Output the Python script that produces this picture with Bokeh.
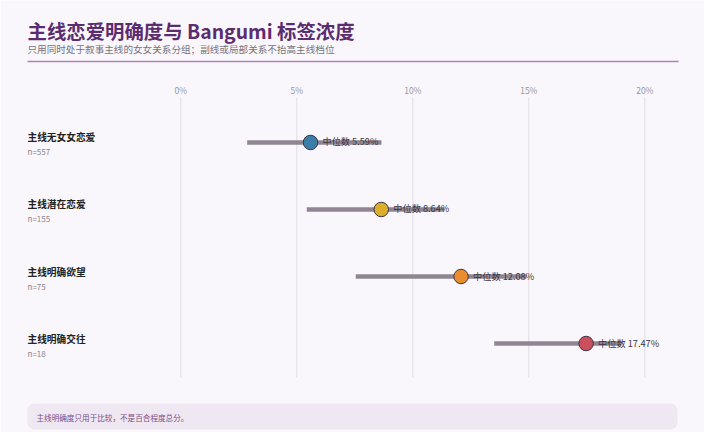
from bokeh.plotting import figure
from bokeh.models import Range1d, Label, BoxAnnotation, ColumnDataSource
from bokeh.core.properties import value
from bokeh.embed import file_html
from bokeh.resources import INLINE

# ---- data ----
categories = ["主线无女女恋爱", "主线潜在恋爱", "主线明确欲望", "主线明确交往"]
counts = [557, 155, 75, 18]
medians = [5.59, 8.64, 12.08, 17.47]
q_low = [2.86, 5.43, 7.54, 13.51]
q_high = [8.65, 11.35, 14.90, 19.00]
dot_colors = ["#3b7ea8", "#dcae2b", "#e98d2e", "#c9505c"]
ticks = [0, 5, 10, 15, 20]
tick_labels = ["0%", "5%", "10%", "15%", "20%"]

title = "主线恋爱明确度与 Bangumi 标签浓度"
subtitle = "只用同时处于叙事主线的女女关系分组；副线或局部关系不抬高主线档位"
footnote = "主线明确度只用于比较，不是百合程度总分。"

FONT = "Noto Sans CJK SC"
BG = "#f9f7fb"
W, H = 704, 432

ypos = list(range(len(categories)))

p = figure(width=W, height=H, output_backend="svg", toolbar_location=None,
           x_axis_type=None, y_axis_type=None, min_border=0,
           x_range=Range1d(-7.772, 22.573), y_range=Range1d(4.328, -2.119))
p.background_fill_color = BG
p.border_fill_color = BG
p.outline_line_color = None
p.xgrid.visible = False
p.ygrid.visible = False

# gridlines and tick labels
p.segment(x0=ticks, y0=[-0.672] * len(ticks), x1=ticks, y1=[3.507] * len(ticks),
          line_color="#e0dde4", line_width=1)
p.text(x=ticks, y=[-0.776] * len(ticks), text=tick_labels, text_align="center",
       text_baseline="middle", text_font=value(FONT), text_font_size="8.5px",
       text_color="#9a97a0")

# range bars
p.segment(x0=q_low, y0=ypos, x1=q_high, y1=ypos, line_color="#8a808d",
          line_width=4.5, line_alpha=0.95)

# median labels
src = ColumnDataSource(dict(x=medians, y=ypos,
                            t=[f"中位数 {m:.2f}%" for m in medians]))
p.text(x="x", y="y", text="t", source=src, x_offset=12, y_offset=-1,
       text_align="left", text_baseline="middle", text_font=value(FONT),
       text_font_size="9.2px", text_color="#3a3540")

# median dots
p.scatter(x=medians, y=ypos, size=14.5, fill_color=dot_colors,
          line_color="#3d3342", line_width=1)

# row labels
xs = [p.x_range.start] * len(categories)
p.text(x=xs, y=ypos, text=categories, x_offset=27, y_offset=-5,
       text_align="left", text_baseline="middle", text_font=value(FONT),
       text_font_size="9.7px", text_font_style="bold", text_color="#222222")
p.text(x=xs, y=ypos, text=[f"n={c}" for c in counts], x_offset=27, y_offset=9.5,
       text_align="left", text_baseline="middle", text_font=value(FONT),
       text_font_size="8px", text_color="#8a8790")

# title block
p.add_layout(Label(x=27, y=H - 29.5, x_units="screen", y_units="screen",
                   text=title, text_font=FONT, text_font_size="19.4px",
                   text_font_style="bold", text_color="#5b2c6f",
                   text_baseline="middle"))
p.add_layout(Label(x=27, y=H - 48, x_units="screen", y_units="screen",
                   text=subtitle, text_font=FONT, text_font_size="9.6px",
                   text_color="#77737c", text_baseline="middle"))
p.add_layout(BoxAnnotation(left=27, right=678, top=H - 60.2, bottom=H - 61.8,
                           left_units="screen", right_units="screen",
                           top_units="screen", bottom_units="screen",
                           fill_color="#ae82bb", fill_alpha=1, line_color=None))

# footnote box
p.add_layout(BoxAnnotation(left=27, right=677, top=H - 403, bottom=H - 429,
                           left_units="screen", right_units="screen",
                           top_units="screen", bottom_units="screen",
                           fill_color="#efe7f1", fill_alpha=1, line_color=None,
                           border_radius=7))
p.add_layout(Label(x=36, y=H - 416.5, x_units="screen", y_units="screen",
                   text=footnote, text_font=FONT, text_font_size="7.6px",
                   text_color="#7b4f86", text_baseline="middle"))

html = file_html(p, INLINE)
html = html.replace("<body>", f'<body style="background:{BG};">', 1)
open("out.html", "w").write(html)
